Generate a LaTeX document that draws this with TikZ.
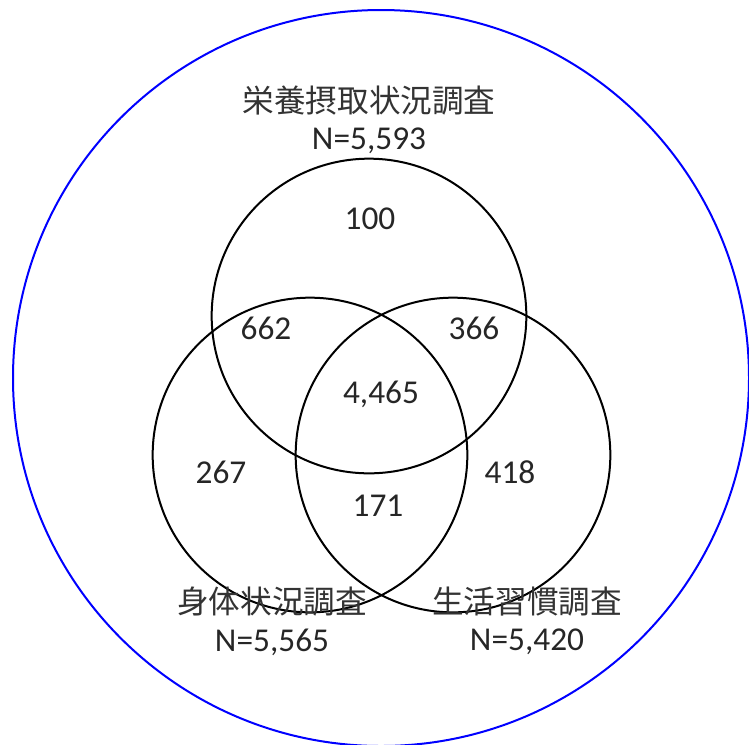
\documentclass[tikz,border=0pt]{standalone}
\usepackage{fontspec}
\setmainfont{Carlito}
\newfontfamily\jpfont{Noto Sans CJK JP}
\usetikzlibrary{positioning}

\begin{document}
\begin{tikzpicture}[x=0.75pt,y=-0.75pt,
    venn/.style={circle,draw,line width=1.5pt,minimum size=236pt,inner sep=0pt},
    lbl/.style={font=\fontsize{25}{30}\selectfont,text=black!85},
    jp/.style={font=\jpfont\fontsize{23.7}{28}\selectfont,text=black!80}]
   \useasboundingbox (0,0) rectangle (749,744);
   \node[circle,draw=blue,line width=1.5pt,minimum size=552pt,inner sep=0pt] (all) at (381,378) {};
   \node[venn] (nutri) at (369,316) {};
   \node[venn] (body)  at (310,455) {};
   \node[venn] (life)  at (453,455) {};

   \node[jp]  (nutriname) at (369,101) {栄養摂取状況調査};
   \node[lbl] (nutrin) [below=2pt of nutriname] {N=5,593};
   \node[jp]  (bodyname)  at (272,602) {身体状況調査};
   \node[lbl] (bodyn)  [below=2pt of bodyname] {N=5,565};
   \node[jp]  (lifename)  at (527,602) {生活習慣調査};
   \node[lbl] (lifen)  [below=2pt of lifename] {N=5,420};

   \node[lbl] (n100) at (370,219) {100};
   \node[lbl] (n662) at (266,328) {662};
   \node[lbl] (n366) at (474,328) {366};
   \node[lbl] (n4465) at (381,394) {4,465};
   \node[lbl] (n267) at (221,472) {267};
   \node[lbl] (n418) at (510,472) {418};
   \node[lbl] (n171) at (378,506) {171};
\end{tikzpicture}
\end{document}
